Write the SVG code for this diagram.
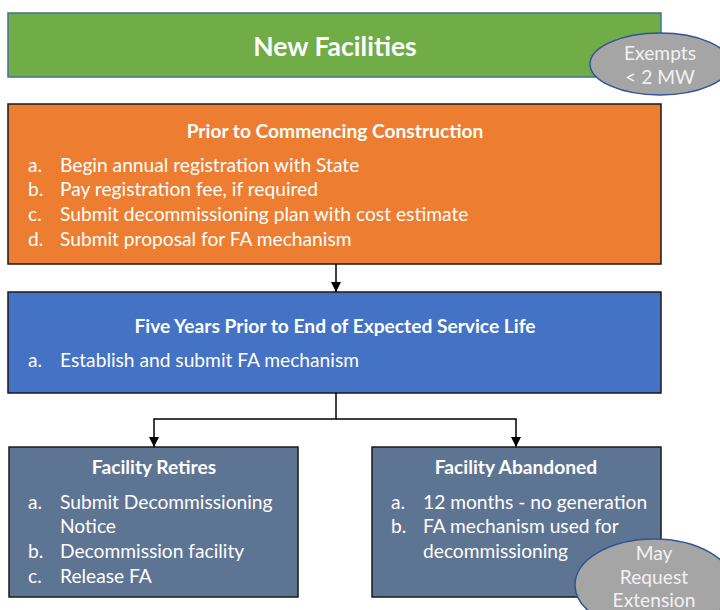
<svg xmlns="http://www.w3.org/2000/svg" width="720" height="610" viewBox="0 0 720 610">
<defs>
<marker id="ah" viewBox="0 0 10 10" refX="10" refY="5" markerWidth="10" markerHeight="10" markerUnits="userSpaceOnUse" orient="auto">
<path d="M0,0 L10,5 L0,10 z" fill="#000"/>
</marker>
</defs>
<style>
text{font-family:Lato,"Open Sans","Liberation Sans",sans-serif;fill:#fff;font-size:19.2px}
.t{font-weight:bold;text-anchor:middle}
.big{font-size:26.5px}
.box{stroke:#1a1a1a;stroke-width:1.5}
.ell{fill:#a5a5a5;stroke:#2f5597;stroke-width:1.5}
.et{fill:#f2f2f2;text-anchor:middle}
.con{fill:none;stroke:#000;stroke-width:1.5}
</style>
<g id="new-facilities">
<rect x="8" y="13" width="653" height="64" fill="#70ad47" stroke="#41719c" stroke-width="1.5"/>
<text class="t big" x="335" y="56">New Facilities</text>
</g>
<g id="prior-construction">
<rect class="box" x="8" y="104" width="653" height="160" fill="#ed7d31"/>
<text class="t" x="335" y="138">Prior to Commencing Construction</text>
<text x="28" y="172">a.</text><text x="60" y="172">Begin annual registration with State</text>
<text x="28" y="196">b.</text><text x="60" y="196">Pay registration fee, if required</text>
<text x="28" y="221">c.</text><text x="60" y="221">Submit decommissioning  plan with cost estimate</text>
<text x="28" y="246">d.</text><text x="60" y="246">Submit proposal for FA mechanism</text>
</g>
<g id="five-years">
<rect class="box" x="8" y="292" width="653" height="101" fill="#4472c4"/>
<text class="t" x="335" y="333">Five Years Prior to End of Expected Service Life</text>
<text x="28" y="367">a.</text><text x="60" y="367">Establish and submit FA mechanism</text>
</g>
<g id="facility-retires">
<rect class="box" x="9" y="447" width="289" height="150" fill="#5e7493"/>
<text class="t" x="154" y="474">Facility Retires</text>
<text x="28" y="509">a.</text><text x="60" y="509">Submit Decommissioning</text>
<text x="60" y="533">Notice</text>
<text x="28" y="558">b.</text><text x="60" y="558">Decommission facility</text>
<text x="28" y="583">c.</text><text x="60" y="583">Release FA</text>
</g>
<g id="facility-abandoned">
<rect class="box" x="372" y="447" width="289" height="150" fill="#5e7493"/>
<text class="t" x="516" y="474">Facility Abandoned</text>
<text x="391" y="509">a.</text><text x="423" y="509">12 months - no generation</text>
<text x="391" y="533">b.</text><text x="423" y="533">FA mechanism  used for</text>
<text x="423" y="558">decommissioning</text>
</g>
<g id="exempts">
<ellipse class="ell" cx="660" cy="64" rx="70" ry="31"/>
<text class="et" x="660" y="60">Exempts</text>
<text class="et" x="660" y="84">&lt; 2 MW</text>
</g>
<g id="may-request">
<ellipse class="ell" cx="654" cy="585" rx="79" ry="46"/>
<text class="et" x="654" y="560">May</text>
<text class="et" x="654" y="584">Request</text>
<text class="et" x="654" y="607">Extension</text>
</g>
<g id="connectors">
<path class="con" d="M336,264 V292" marker-end="url(#ah)"/>
<path class="con" d="M336,393 V419 H154 V447" marker-end="url(#ah)"/>
<path class="con" d="M336,419 H516 V447" marker-end="url(#ah)"/>
</g>
</svg>
